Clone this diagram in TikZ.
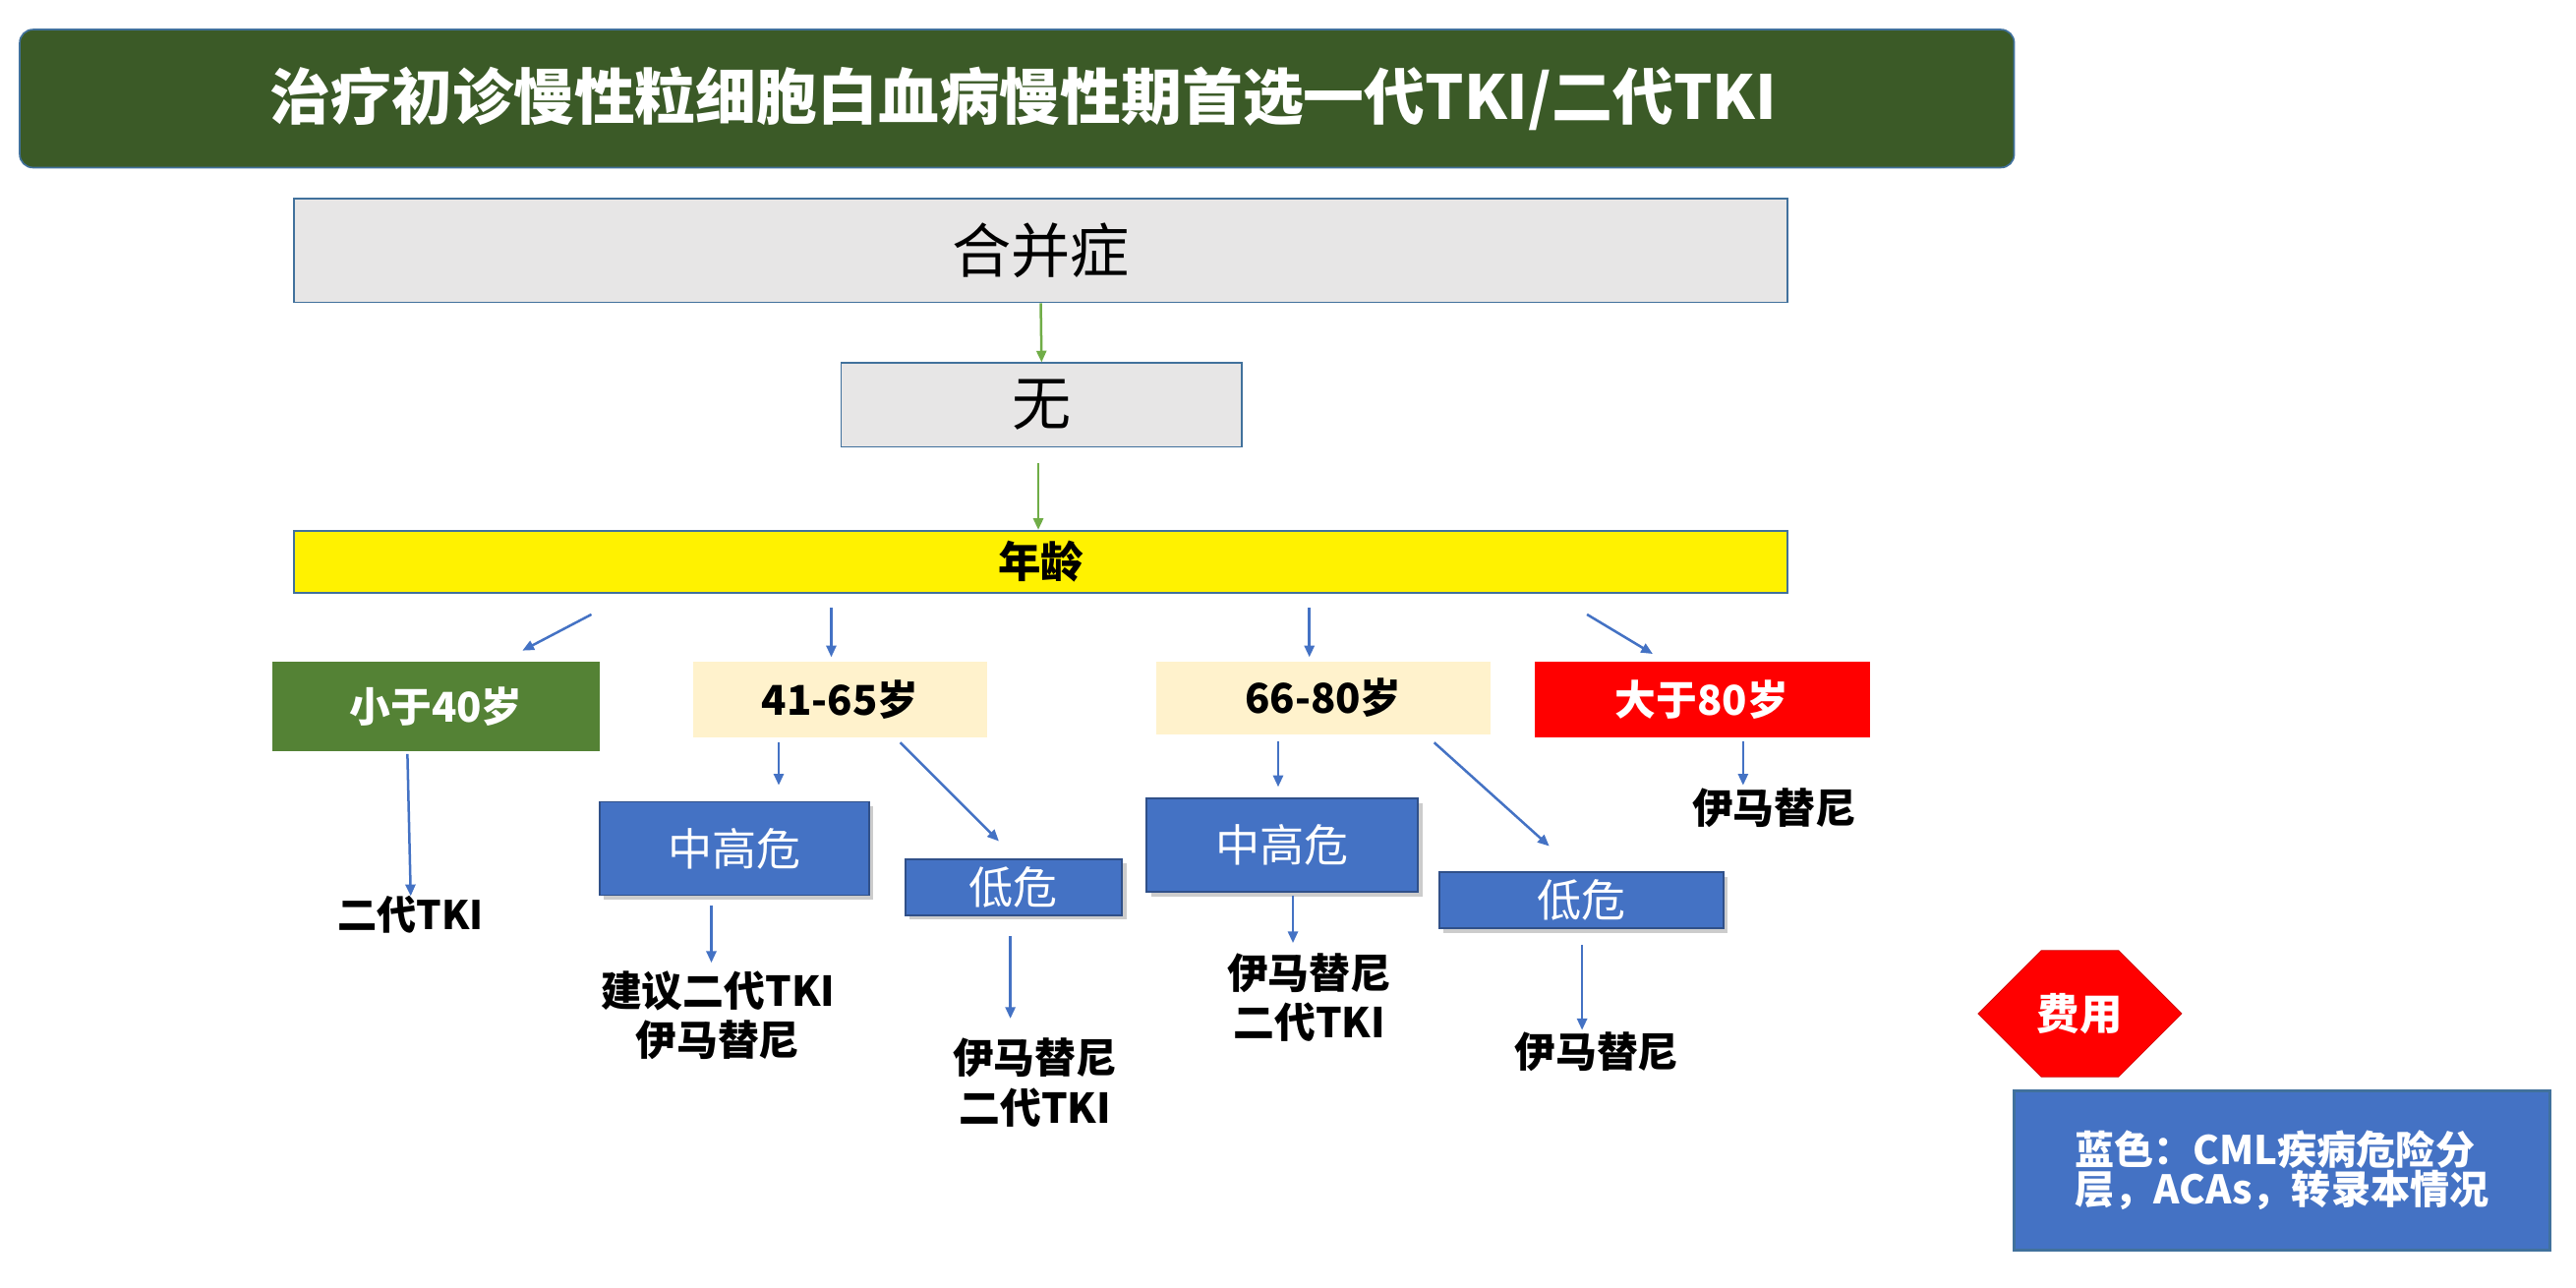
\documentclass[tikz,border=0pt]{standalone}
\usepackage{fontspec}
\setmainfont{Noto Sans CJK SC}
\usetikzlibrary{arrows.meta,shapes.misc,shadows}
\definecolor{tgreen}{HTML}{3B5A27}
\definecolor{lgreen}{HTML}{548235}
\definecolor{bblue}{HTML}{4472C4}
\definecolor{bord}{HTML}{41719C}
\definecolor{cream}{HTML}{FFF2CC}
\definecolor{lgray}{HTML}{E7E6E6}
\definecolor{agreen}{HTML}{70AD47}
\tikzset{
 box/.style={draw=bord,line width=1pt,inner sep=0pt,align=center},
 fs/.style={font=\fontsize{#1}{#1}\selectfont\bfseries},
 ga/.style={-{Triangle[length=7pt,width=6pt]},agreen,line width=1.5pt},
 ba/.style={-{Triangle[length=7pt,width=6pt]},bblue,line width=1.5pt},
 lbl/.style={inner sep=0pt,align=center},
 riskbox/.style={box,fill=bblue,text=white,draw=bblue!70!black,drop shadow={opacity=0.4}},
}
\begin{document}
\begin{tikzpicture}[x=1pt,y=-1pt]
\useasboundingbox (0,0) rectangle (1568,784);
\fill[white] (0,0) rectangle (1568,784);
\node[box,rounded corners=8pt,fill=tgreen,text=white,fs=37,minimum width=1214,minimum height=84,draw=bord] (title) at (619,60) {\hspace*{8pt}治疗初诊慢性粒细胞白血病慢性期首选一代TKI/二代TKI\hfill};
\node[box,fill=lgray,minimum width=909,minimum height=63,font=\fontsize{36}{36}\selectfont] (hb) at (633.5,152.5) {合并症};
\node[box,fill=lgray,minimum width=244,minimum height=51,font=\fontsize{36}{36}\selectfont] (wu) at (634,246.5) {无};
\node[box,fill=yellow,minimum width=909,minimum height=38,fs=26] (age) at (633.5,342) {年龄};
\draw[ga] (hb.south) -- (wu.north);
\draw[ga] (632,282) -- (age.north -| 632,0) ;
\node[box,draw=none,fill=lgreen,text=white,fs=25,minimum width=199,minimum height=54] (a1) at (265.5,430) {小于40岁};
\node[box,draw=none,fill=cream,fs=25,minimum width=179,minimum height=46] (a2) at (511.5,426) {41-65岁};
\node[box,draw=none,fill=cream,fs=25,minimum width=203,minimum height=44] (a3) at (805.5,425) {66-80岁};
\node[box,draw=none,fill=red,text=white,fs=25,minimum width=204,minimum height=46] (a4) at (1036,426) {大于80岁};
\coordinate (s1) at (360,374); \coordinate (e1) at (318,396);
\draw[ba] (s1) -- (e1);
\coordinate (s2) at (506,370); \coordinate (e2) at (506,400);
\draw[ba] (s2) -- (e2);
\coordinate (s3) at (797,370); \coordinate (e3) at (797,400);
\draw[ba] (s3) -- (e3);
\coordinate (s4) at (966,374); \coordinate (e4) at (1006,398);
\draw[ba] (s4) -- (e4);
% column 1
\node[lbl,fs=24] (t1) at (250,557) {二代TKI};
\draw[ba] (248,459) -- (t1.north);
% column 2
\node[riskbox,font=\fontsize{27}{27}\selectfont,minimum width=164,minimum height=57] (r1) at (447,516.5) {中高危};
\node[riskbox,font=\fontsize{27}{27}\selectfont,minimum width=132,minimum height=34] (r2) at (617,540) {低危};
\draw[ba] (474,452) -- (474,478);
\draw[ba] (548,452) -- (608,512);
\node[lbl,fs=25] (t2) at (437,618) {建议二代TKI\\[5pt]伊马替尼};
\draw[ba] (433,551) -- (433,586);
\node[lbl,fs=25] (t3) at (630,659) {伊马替尼\\[5pt]二代TKI};
\draw[ba] (615,570) -- (615,620);
% column 3
\node[riskbox,font=\fontsize{27}{27}\selectfont,minimum width=165,minimum height=57] (r3) at (780.5,514.5) {中高危};
\node[riskbox,font=\fontsize{27}{27}\selectfont,minimum width=173,minimum height=34] (r4) at (962.5,548) {低危};
\draw[ba] (778,451) -- (778,479);
\draw[ba] (873,452) -- (943,515);
\node[lbl,fs=25] (t4) at (797,607) {伊马替尼\\[5pt]二代TKI};
\draw[ba] (787,545) -- (787,574);
\node[lbl,fs=25] (t5) at (972,640) {伊马替尼};
\draw[ba] (963,575) -- (963,627);
% column 4
\node[lbl,fs=25] (t6) at (1080,492) {伊马替尼};
\draw[ba] (1061,451) -- (1061,478);
% cost
\node[chamfered rectangle,chamfered rectangle xsep=20pt,chamfered rectangle ysep=32pt,fill=red,draw=red!80!black,text=white,fs=26,minimum width=124,minimum height=64,inner sep=0pt] (cost) at (1266,617) {费用};
\node[box,fill=bblue,draw=bord,line width=1.5pt,text=white,fs=24,minimum width=326,minimum height=97,align=left] (leg) at (1389,712.5) {蓝色：CML疾病危险分\\层，ACAs，转录本情况};
\end{tikzpicture}
\end{document}
